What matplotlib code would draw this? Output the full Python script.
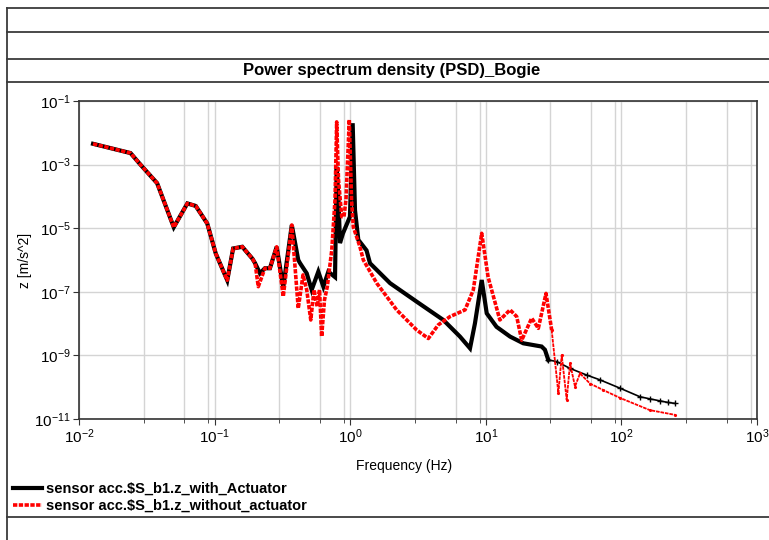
"""PSD of the bogie vertical acceleration, with and without actuator"""
import numpy as np
import matplotlib
matplotlib.use('Agg')
from matplotlib import pyplot as plt
from matplotlib.lines import Line2D
from matplotlib.ticker import LogLocator, NullFormatter, NullLocator

plt.rcParams['font.family'] = ['Liberation Sans', 'DejaVu Sans']
plt.rcParams['mathtext.fontset'] = 'custom'
plt.rcParams['mathtext.rm'] = 'Liberation Sans'
plt.rcParams['mathtext.it'] = 'Liberation Sans:italic'

# with actuator (black)
freq_with = [0.0127, 0.024, 0.0285, 0.0377, 0.050, 0.063, 0.0726, 0.0883, 0.102, 0.124,
             0.137, 0.160, 0.190, 0.199, 0.216, 0.235, 0.256, 0.287, 0.321, 0.371,
             0.414, 0.427, 0.478, 0.520, 0.582, 0.634, 0.690, 0.773, 0.795, 0.820,
             0.841, 0.885, 0.996, 1.043, 1.085, 1.148, 1.32, 1.40, 1.97, 3.09,
             4.86, 6.45, 7.65, 8.32, 9.33, 10.16, 12.0, 15.1, 18.9, 25.8,
             27.3, 28.9, 33.3, 41.8, 55.5, 69.5, 97.7, 137, 162, 193, 221, 248]
psd_with = [4.5e-3, 2.3e-3, 9.8e-4, 2.6e-4, 1.07e-5, 6.0e-5, 5.0e-5, 1.4e-5, 1.6e-6, 2.3e-7,
            2.3e-6, 2.6e-6, 1.1e-6, 7.9e-7, 3.8e-7, 5.5e-7, 5.5e-7, 2.6e-6, 1.4e-7, 1.26e-5,
            1.0e-6, 7.9e-7, 3.8e-7, 1.15e-7, 4.3e-7, 1.45e-7, 4.3e-7, 2.9e-7, 8.5e-4, 7.8e-5,
            3.4e-6, 6.9e-6, 2.3e-5, 2.0e-2, 3.7e-5, 4.3e-6, 2.0e-6, 7.9e-7, 1.86e-7, 4.9e-8,
            1.3e-8, 3.9e-9, 1.67e-9, 1.02e-8, 2.35e-7, 2.1e-8, 7.9e-9, 3.9e-9, 2.4e-9, 1.9e-9,
            1.5e-9, 7.2e-10, 6.4e-10, 3.9e-10, 2.4e-10, 1.7e-10, 9.3e-11, 5.0e-11, 4.3e-11, 3.7e-11, 3.3e-11, 3.1e-11]

# without actuator (red)
freq_without = [0.0127, 0.024, 0.0285, 0.0377, 0.050, 0.063, 0.0726, 0.0883, 0.102, 0.124,
                0.137, 0.160, 0.190, 0.199, 0.210, 0.235, 0.256, 0.287, 0.321, 0.371,
                0.414, 0.449, 0.478, 0.512, 0.541, 0.572, 0.594, 0.616, 0.646, 0.678,
                0.731, 0.773, 0.795, 0.820, 0.866, 0.900, 0.931, 0.985, 1.023, 1.054,
                1.18, 1.25, 1.57, 2.20, 3.09, 3.77, 4.46, 5.45, 7.03, 8.09,
                9.33, 10.4, 12.7, 15.1, 16.9, 18.4, 21.8, 24.4, 27.8, 30.6,
                34.3, 36.3, 39.5, 41.8, 45.5, 49.5, 58.7, 73.6, 97.7, 162, 248]
psd_without = [4.5e-3, 2.3e-3, 9.8e-4, 2.6e-4, 1.07e-5, 6.0e-5, 5.0e-5, 1.4e-5, 1.6e-6, 2.3e-7,
               2.3e-6, 2.6e-6, 1.1e-6, 7.9e-7, 1.45e-7, 5.5e-7, 5.5e-7, 2.6e-6, 7.1e-8, 1.26e-5,
               3.0e-8, 3.4e-7, 1.15e-7, 1.3e-8, 1.15e-7, 3.4e-8, 1.15e-7, 3.9e-9, 5.5e-8, 1.45e-7,
               2.0e-6, 7.8e-5, 2.2e-2, 3.3e-4, 2.3e-5, 2.3e-5, 7.8e-5, 2.6e-2, 7.8e-5, 1.1e-5,
               2.6e-6, 1.0e-6, 1.86e-7, 2.7e-8, 6.3e-9, 3.4e-9, 9.1e-9, 1.66e-8, 2.7e-8, 1.15e-7,
               6.9e-6, 2.9e-7, 1.3e-8, 2.7e-8, 1.66e-8, 3.0e-9, 1.48e-8, 7.1e-9, 8.9e-8, 6.3e-9,
               6.5e-11, 1.02e-9, 4.0e-11, 5.6e-10, 1.05e-10, 2.7e-10, 1.3e-10, 8.1e-11, 4.6e-11, 1.9e-11, 1.35e-11]

labels = ['sensor acc.$S_b1.z_with_Actuator', 'sensor acc.$S_b1.z_without_actuator']
title = 'Power spectrum density (PSD)_Bogie'

fw, pw = np.array(freq_with), np.array(psd_with)
fo, po = np.array(freq_without), np.array(psd_without)

fig = plt.figure(figsize=(7.69, 5.4), dpi=100)
ax = fig.add_axes([0.1027, 0.2241, 0.8817, 0.5889])

# black: thick up to ~30 Hz, thin with + markers after
lo = fw <= 29
ax.plot(fw[lo], pw[lo], color='black', lw=3.0, solid_joinstyle='miter')
hi = fw >= 28
ax.plot(fw[hi], pw[hi], color='black', lw=1.2, marker='+', ms=5, mew=1)
lo2 = fo <= 31
ax.plot(fo[lo2], po[lo2], color='red', lw=2.6, linestyle=(0, (1.2, 0.4)))
ax.plot(fo[fo >= 30], po[fo >= 30], color='red', lw=1.3, linestyle=(0, (2, 0.5)),
        marker='.', ms=2.5)

ax.set_xscale('log')
ax.set_yscale('log')
ax.set_xlim(1e-2, 1e3)
ax.set_ylim(1e-11, 1e-1)
ax.set_yticks([1e-11, 1e-9, 1e-7, 1e-5, 1e-3, 1e-1])
ax.yaxis.set_minor_locator(NullLocator())
ax.xaxis.set_minor_locator(LogLocator(base=10, subs=[3, 6, 9], numticks=20))
ax.xaxis.set_minor_formatter(NullFormatter())
ax.grid(True, which='major', color='#d4d4d4', lw=1.0)
ax.grid(True, which='minor', axis='x', color='#d4d4d4', lw=1.0)
ax.set_axisbelow(True)
ax.tick_params(axis='both', which='major', labelsize=11, length=4, color='#333333', pad=2)
ax.tick_params(axis='x', which='minor', length=3, color='#333333')
for s in ax.spines.values():
    s.set_color('#333333')
    s.set_linewidth(1.2)

ax.set_xlabel('Frequency (Hz)', fontsize=10)
ax.xaxis.set_label_coords(0.48, -0.125)
ax.set_ylabel('z [m/s^2]', fontsize=10)
ax.yaxis.set_label_coords(-0.07, 0.5)

# report frame lines
H = 540.0
for yp in [8, 32, 59, 82, 517]:
    fig.add_artist(Line2D([7 / 769, 1.0], [1 - yp / H, 1 - yp / H], color='#3a3a3a', lw=1.3))
fig.add_artist(Line2D([7 / 769, 7 / 769], [0, 1 - 8 / H], color='#3a3a3a', lw=1.3))
fig.text(392 / 769, 1 - 70 / H, title, ha='center', va='center', fontsize=12, fontweight='bold')

handles = [Line2D([], [], color='black', lw=3.0),
           Line2D([], [], color='red', lw=2.6, linestyle=(0, (1.2, 0.4)))]
fig.legend(handles, labels, loc='upper left', bbox_to_anchor=(0.003, 1 - 472 / H),
           frameon=False, prop={'weight': 'bold', 'size': 10.5},
           handlelength=2.0, handletextpad=0.3, labelspacing=0.2, borderaxespad=0.3)

fig.savefig('out.png', dpi=100)
